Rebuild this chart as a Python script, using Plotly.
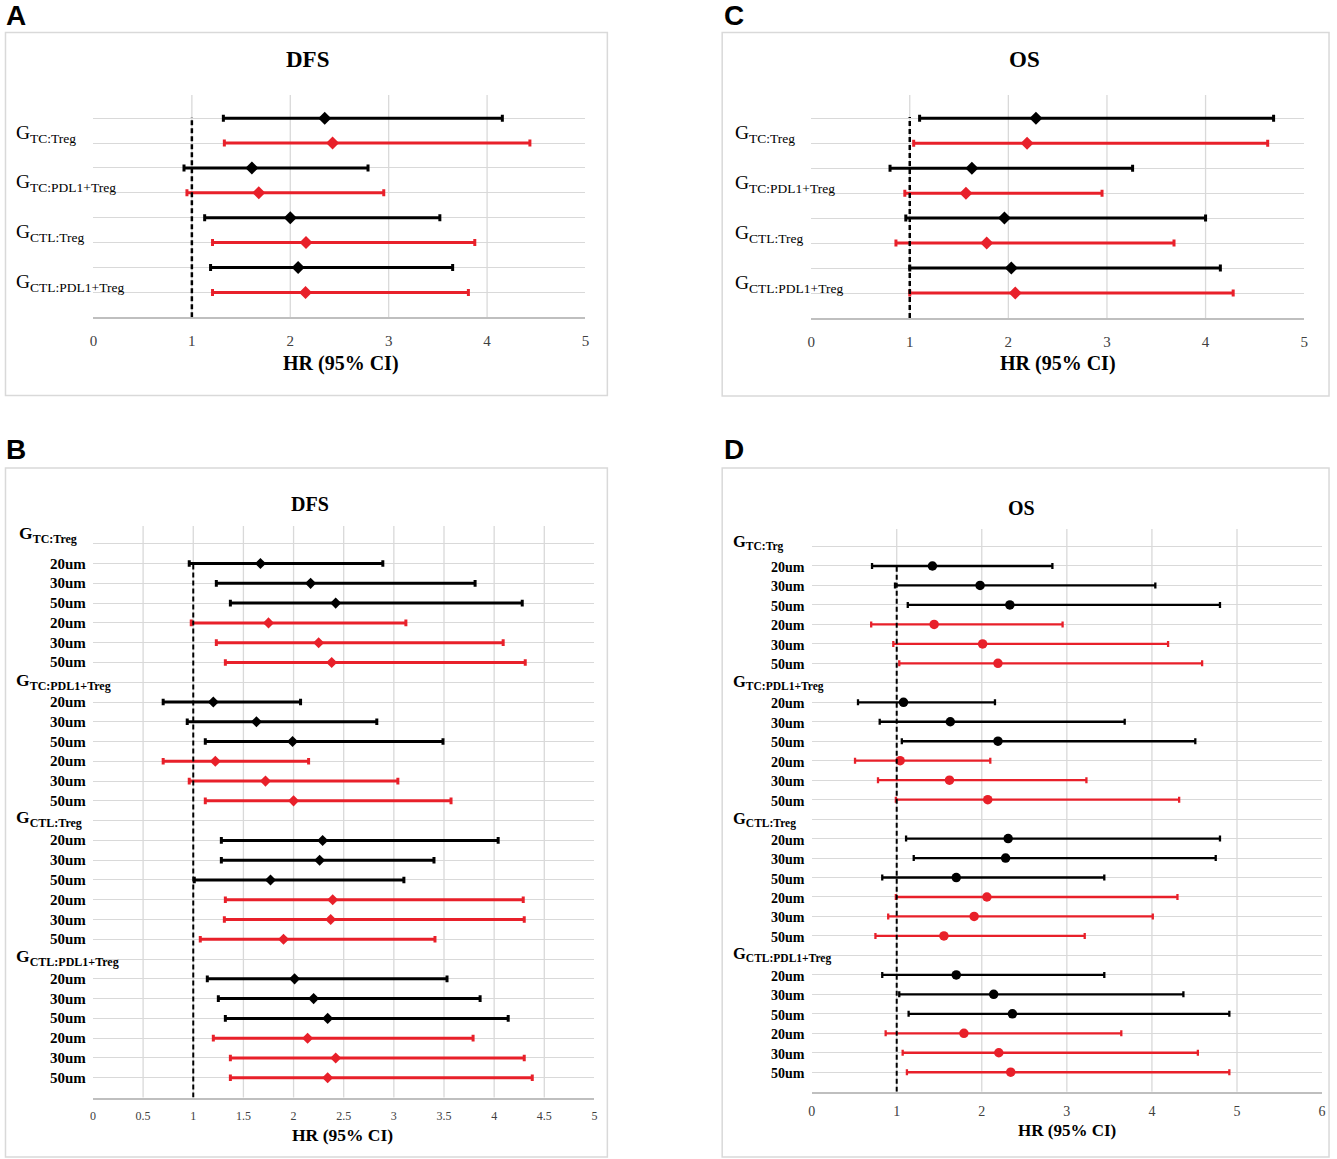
import plotly.graph_objects as go

# ---------------- data ----------------
A_groups = ["TC:Treg", "TC:PDL1+Treg", "CTL:Treg", "CTL:PDL1+Treg"]
A_black_hr = [2.35, 1.61, 2.00, 2.08]
A_black_lo = [1.32, 0.92, 1.13, 1.19]
A_black_hi = [4.155, 2.79, 3.52, 3.65]
A_red_hr = [2.43, 1.68, 2.16, 2.155]
A_red_lo = [1.33, 0.95, 1.21, 1.21]
A_red_hi = [4.435, 2.95, 3.875, 3.81]

C_groups = A_groups
C_black_hr = [2.28, 1.63, 1.96, 2.03]
C_black_lo = [1.10, 0.80, 0.96, 1.00]
C_black_hi = [4.69, 3.26, 4.00, 4.15]
C_red_hr = [2.19, 1.57, 1.78, 2.07]
C_red_lo = [1.04, 0.95, 0.86, 1.00]
C_red_hi = [4.63, 2.95, 3.68, 4.28]

sizes = ["20um", "30um", "50um"]
B_groups = ["TC:Treg", "TC:PDL1+Treg", "CTL:Treg", "CTL:PDL1+Treg"]
B_black_hr = [1.67, 2.17, 2.42, 1.20, 1.63, 1.99, 2.29, 2.26, 1.77, 2.01, 2.20, 2.34]
B_black_lo = [0.96, 1.23, 1.37, 0.70, 0.94, 1.12, 1.28, 1.28, 1.01, 1.14, 1.25, 1.32]
B_black_hi = [2.89, 3.81, 4.28, 2.07, 2.83, 3.49, 4.04, 3.40, 3.10, 3.53, 3.86, 4.14]
B_red_hr = [1.75, 2.25, 2.38, 1.22, 1.72, 2.00, 2.39, 2.37, 1.90, 2.14, 2.42, 2.34]
B_red_lo = [0.98, 1.23, 1.32, 0.70, 0.96, 1.12, 1.32, 1.31, 1.07, 1.20, 1.37, 1.37]
B_red_hi = [3.12, 4.09, 4.31, 2.15, 3.04, 3.57, 4.29, 4.30, 3.41, 3.79, 4.30, 4.38]

D_groups = ["TC:Trg", "TC:PDL1+Treg", "CTL:Treg", "CTL:PDL1+Treg"]
D_black_hr = [1.42, 1.98, 2.33, 1.08, 1.63, 2.19, 2.31, 2.28, 1.70, 1.70, 2.14, 2.36]
D_black_lo = [0.71, 0.98, 1.13, 0.545, 0.80, 1.06, 1.11, 1.20, 0.83, 0.83, 1.03, 1.14]
D_black_hi = [2.83, 4.04, 4.80, 2.155, 3.68, 4.51, 4.80, 4.75, 3.44, 3.44, 4.37, 4.91]
D_red_hr = [1.44, 2.01, 2.19, 1.04, 1.62, 2.07, 2.06, 1.91, 1.555, 1.79, 2.20, 2.34]
D_red_lo = [0.70, 0.96, 1.03, 0.51, 0.78, 0.99, 0.99, 0.90, 0.75, 0.87, 1.07, 1.12]
D_red_hi = [2.95, 4.19, 4.59, 2.10, 3.23, 4.32, 4.30, 4.01, 3.21, 3.64, 4.54, 4.91]

AC_ticks = [0, 1, 2, 3, 4, 5]
B_ticks = [0, 0.5, 1, 1.5, 2, 2.5, 3, 3.5, 4, 4.5, 5]
B_ticktext = ["0", "0.5", "1", "1.5", "2", "2.5", "3", "3.5", "4", "4.5", "5"]
D_ticks = [0, 1, 2, 3, 4, 5, 6]

# ---------------- styling ----------------
W, H = 1337, 1159
BLACK = "#000000"
RED = "#e8202a"
GRID = "#d9d9d9"
AXIS = "#bfbfbf"
SERIF = "Liberation Serif"
SANS = "Liberation Sans"


def px(x):
    return x / W


def py(y):
    return 1 - y / H


def glabel(sub, subsize, bold=False):
    s = 'G<sub><span style="font-size:%spx">%s</span></sub>' % (subsize, sub)
    return "<b>%s</b>" % s if bold else s


fig = go.Figure()


def add_series(xid, yid, hr, lo, hi, ys, color, symbol, msize, thick, capw):
    fig.add_trace(go.Scatter(
        x=hr, y=ys, mode="markers", xaxis=xid, yaxis=yid,
        marker=dict(symbol=symbol, size=msize, color=color, line=dict(width=0)),
        error_x=dict(type="data", symmetric=False,
                     array=[h - m for h, m in zip(hi, hr)],
                     arrayminus=[m - l for m, l in zip(hr, lo)],
                     color=color, thickness=thick, width=capw),
        hoverinfo="skip", showlegend=False))


# Panel A / C (simple)
ac_black_y = [8, 6, 4, 2]
ac_red_y = [7, 5, 3, 1]
add_series("x", "y", A_black_hr, A_black_lo, A_black_hi, ac_black_y, BLACK, "diamond", 10, 3, 3.5)
add_series("x", "y", A_red_hr, A_red_lo, A_red_hi, ac_red_y, RED, "diamond", 10, 3, 3.5)
add_series("x2", "y2", C_black_hr, C_black_lo, C_black_hi, ac_black_y, BLACK, "diamond", 10, 3, 3.5)
add_series("x2", "y2", C_red_hr, C_red_lo, C_red_hi, ac_red_y, RED, "diamond", 10, 3, 3.5)

# Panel B / D (grouped rows)
header_slots = [28 - 7 * g for g in range(4)]
bd_black_y = [h - k for h in header_slots for k in (1, 2, 3)]
bd_red_y = [h - k for h in header_slots for k in (4, 5, 6)]
add_series("x3", "y3", B_black_hr, B_black_lo, B_black_hi, bd_black_y, BLACK, "diamond", 8.5, 3, 3.3)
add_series("x3", "y3", B_red_hr, B_red_lo, B_red_hi, bd_red_y, RED, "diamond", 8.5, 3, 3.3)
add_series("x4", "y4", D_black_hr, D_black_lo, D_black_hi, bd_black_y, BLACK, "circle", 9.5, 2.3, 3)
add_series("x4", "y4", D_red_hr, D_red_lo, D_red_hi, bd_red_y, RED, "circle", 9.5, 2.3, 3)

tickcol = "#404040"


def xax(domain, rng, tickvals, ticktext, fsize, standoff, anchor):
    return dict(domain=domain, range=rng, tickvals=tickvals, ticktext=ticktext,
                showgrid=False, zeroline=False, showline=True, linecolor=AXIS, linewidth=1.5,
                ticks="", tickfont=dict(family=SERIF, size=fsize, color=tickcol),
                ticklabelstandoff=standoff, anchor=anchor, fixedrange=True)


def yax(domain, rng, nrows, anchor):
    return dict(domain=domain, range=rng, tickvals=list(range(1, nrows + 1)),
                showticklabels=False, ticks="", showgrid=True, gridcolor=GRID, gridwidth=1.3,
                zeroline=False, showline=False, anchor=anchor, fixedrange=True)


fig.update_layout(
    width=W, height=H, margin=dict(l=0, r=0, t=0, b=0),
    paper_bgcolor="white", plot_bgcolor="white", showlegend=False,
    xaxis=xax([px(90), px(585)], [0, 5], AC_ticks, [str(t) for t in AC_ticks], 15, 9, "y"),
    yaxis=yax([py(317.3), py(95)], [0, 8.93], 8, "x"),
    xaxis2=xax([px(812), px(1308)], [0, 5], AC_ticks, [str(t) for t in AC_ticks], 15, 9, "y2"),
    yaxis2=yax([py(318), py(95)], [0, 8.93], 8, "x2"),
    xaxis3=xax([px(89.5), px(594)], [0, 5], B_ticks, B_ticktext, 12, 6, "y3"),
    yaxis3=yax([py(1097.5), py(526)], [0, 28.9], 28, "x3"),
    xaxis4=xax([px(812.5), px(1326)], [0, 6], D_ticks, [str(t) for t in D_ticks], 14, 6, "y4"),
    yaxis4=yax([py(1091.7), py(529)], [0, 28.9], 28, "x4"),
)

shapes = []
# vertical gridlines
for xid, yid, xs in [("x", "y", [1, 2, 3, 4]), ("x2", "y2", [1, 2, 3, 4]),
                     ("x3", "y3", [0.5, 1, 1.5, 2, 2.5, 3, 3.5, 4, 4.5]),
                     ("x4", "y4", [1, 2, 3, 4, 5])]:
    for xv in xs:
        shapes.append(dict(type="line", xref=xid, yref=yid + " domain", x0=xv, x1=xv, y0=0, y1=1,
                           line=dict(color=GRID, width=1.3), layer="below"))
# dashed reference line at HR = 1
for xid, yid, ytop, w in [("x", "y", 8.05, 2.5), ("x2", "y2", 8.05, 2.5), ("x3", "y3", 27, 2), ("x4", "y4", 27, 2)]:
    shapes.append(dict(type="line", xref=xid, yref=yid, x0=1, x1=1, y0=0, y1=ytop,
                       line=dict(color=BLACK, width=w, dash="5px,3px")))
# panel frames
for x0, x1, y0, y1 in [(1.5, 607, 32.5, 395.5), (722.5, 1333, 32.5, 396),
                       (1.5, 607, 468, 1157), (722.5, 1333, 468, 1157)]:
    shapes.append(dict(type="rect", xref="paper", yref="paper", x0=px(x0), x1=px(x1), y0=py(y1), y1=py(y0),
                       line=dict(color=GRID, width=1.5), fillcolor="rgba(0,0,0,0)", layer="below"))
fig.update_layout(shapes=shapes)

ann = []


def text(x, y, s, size, family=SERIF, xanchor="center", yanchor="middle", yref="paper", yshift=0):
    ann.append(dict(x=px(x), y=(py(y) if yref == "paper" else y), xref="paper", yref=yref, text=s,
                    showarrow=False, xanchor=xanchor, yanchor=yanchor, yshift=yshift,
                    font=dict(family=family, size=size, color="black")))


# panel letters
for s, x, y in [("A", 0, 15), ("B", 0, 450), ("C", 722, 15), ("D", 722, 450)]:
    text(x, y, "<b>%s</b>" % s, 28, family=SANS, xanchor="left")
# titles
text(305, 59.5, "<b>DFS</b>", 23)
text(1027, 60, "<b>OS</b>", 23)
text(308, 504, "<b>DFS</b>", 20)
text(1024, 508, "<b>OS</b>", 20)
# axis titles
text(338.6, 363, "<b>HR (95% CI)</b>", 20)
text(1060, 363, "<b>HR (95% CI)</b>", 20)
text(341, 1135, "<b>HR (95% CI)</b>", 17.5)
text(1069, 1130, "<b>HR (95% CI)</b>", 17)

# panel A / C group labels
for i, lab in enumerate(A_groups):
    text(10, 7.5 - 2 * i, glabel(lab, 13.5), 19.5, xanchor="left", yref="y", yshift=-3)
for i, lab in enumerate(C_groups):
    text(733, 7.5 - 2 * i, glabel(lab, 13.5), 19.5, xanchor="left", yref="y2", yshift=-3)

# panel B / D headers and row labels
B_head_off = [0.6, 0.2, 0.25, 0.25]
B_head_x = [13, 10, 10, 10]
D_head_off = [0.35, 0.15, 0.15, 0.2]
for g in range(4):
    h = header_slots[g]
    text(B_head_x[g], h + B_head_off[g] - 0.15, glabel(B_groups[g], 12, bold=True), 17.5,
         xanchor="left", yref="y3")
    text(731, h + D_head_off[g] - 0.15, glabel(D_groups[g], 11.5, bold=True), 16.5,
         xanchor="left", yref="y4")
    for k in range(6):
        text(85, h - 1 - k, "<b>%s</b>" % sizes[k % 3], 15, xanchor="right", yref="y3", yshift=0)
        text(808, h - 1 - k, "<b>%s</b>" % sizes[k % 3], 14, xanchor="right", yref="y4", yshift=-1.5)

fig.update_layout(annotations=ann)
fig.write_html("out.html", config={"displayModeBar": False},
               post_script="document.body.style.margin='0';document.body.style.overflow='hidden';")
